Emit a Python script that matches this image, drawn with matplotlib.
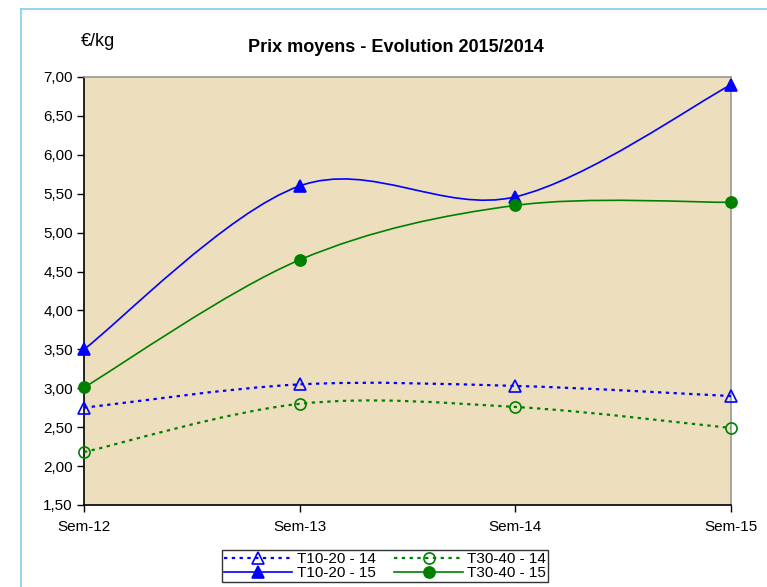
import matplotlib
matplotlib.use("Agg")
import matplotlib.pyplot as plt
import numpy as np
from matplotlib.path import Path
from matplotlib.patches import PathPatch
from matplotlib.lines import Line2D

categories = ["Sem-12", "Sem-13", "Sem-14", "Sem-15"]
t1020_14 = [2.75, 3.05, 3.03, 2.90]
t1020_15 = [3.50, 5.60, 5.46, 6.90]
t3040_14 = [2.18, 2.80, 2.76, 2.49]
t3040_15 = [3.01, 4.65, 5.35, 5.39]
series_names = ["T10-20 - 14", "T10-20 - 15", "T30-40 - 14", "T30-40 - 15"]
yticks = [1.5, 2.0, 2.5, 3.0, 3.5, 4.0, 4.5, 5.0, 5.5, 6.0, 6.5, 7.0]

plt.rcParams['font.family'] = ['Liberation Sans', 'DejaVu Sans']

fig = plt.figure(figsize=(7.67, 5.87), dpi=100)
# outer light-blue frame (top and left edges visible)
fig.add_artist(Line2D([21/767, 21/767], [0, 1 - 9/587], transform=fig.transFigure, color="#87CEEB", lw=1.2))
fig.add_artist(Line2D([21/767, 1], [1 - 9/587, 1 - 9/587], transform=fig.transFigure, color="#87CEEB", lw=1.2))

ax = fig.add_axes([84/767, 1 - 505/587, (731 - 84)/767, (505 - 77)/587])
ax.set_facecolor("#EDDFBD")

def smooth_path(xs, ys):
    pts = np.column_stack([xs, ys]).astype(float)
    n = len(pts)
    verts = [pts[0]]
    codes = [Path.MOVETO]
    for i in range(n - 1):
        p0 = pts[i - 1] if i > 0 else pts[i]
        p1 = pts[i]
        p2 = pts[i + 1]
        p3 = pts[i + 2] if i + 2 < n else pts[i + 1]
        c1 = p1 + (p2 - p0) / 6.0
        c2 = p2 - (p3 - p1) / 6.0
        verts += [c1, c2, p2]
        codes += [Path.CURVE4] * 3
    return Path(verts, codes)

x = np.arange(len(categories))
styles = [
    (t1020_14, "#0000FF", (0, (1.5, 2)), "^", "none", 1.6),
    (t1020_15, "#0000FF", "-", "^", "#0000FF", 1.2),
    (t3040_14, "#008000", (0, (1.5, 2)), "o", "none", 1.6),
    (t3040_15, "#008000", "-", "o", "#008000", 1.2),
]
handles = []
for (vals, col, ls, mk, mfc, lw), name in zip(styles, series_names):
    patch = PathPatch(smooth_path(x, vals), facecolor="none", edgecolor=col, lw=lw, linestyle=ls, zorder=3)
    ax.add_patch(patch)
    ax.plot(x, vals, linestyle="none", marker=mk, markersize=8, markerfacecolor=mfc,
            markeredgecolor=col, markeredgewidth=1.2, zorder=4, clip_on=False)
    handles.append(Line2D([], [], color=col, lw=lw, linestyle=ls, marker=mk, markersize=8,
                          markerfacecolor=mfc, markeredgecolor=col, markeredgewidth=1.2))

ax.set_xlim(0, 3)
ax.set_ylim(1.5, 7.0)
ax.set_xticks(x)
ax.set_xticklabels(categories, fontsize=11)
ax.set_yticks(yticks)
ax.set_yticklabels([f"{v:.2f}".replace(".", ",") for v in yticks], fontsize=11)
ax.tick_params(axis="both", direction="out", length=5, width=1, color="black", pad=3)
ax.tick_params(axis="x", pad=6)
for s in ["left", "bottom"]:
    ax.spines[s].set_color("black")
    ax.spines[s].set_linewidth(1.2)
for s in ["top", "right"]:
    ax.spines[s].set_color("#999999")
    ax.spines[s].set_linewidth(1.2)

fig.text(98/767, 1 - 42/587, "€/kg", fontsize=13, ha="center", va="center")
fig.text(396/767, 1 - 48/587, "Prix moyens - Evolution 2015/2014", fontsize=13, fontweight="bold",
         ha="center", va="center")

leg = fig.legend(handles, series_names, ncol=2, loc="center", bbox_to_anchor=(385/767, 1 - 566/587),
                 fontsize=11, frameon=True, fancybox=False, edgecolor="black", handlelength=4.5,
                 borderpad=0.1, labelspacing=0.0, columnspacing=1.2, handletextpad=0.3)
leg.get_frame().set_linewidth(1.0)

fig.savefig("out.png", dpi=100)
